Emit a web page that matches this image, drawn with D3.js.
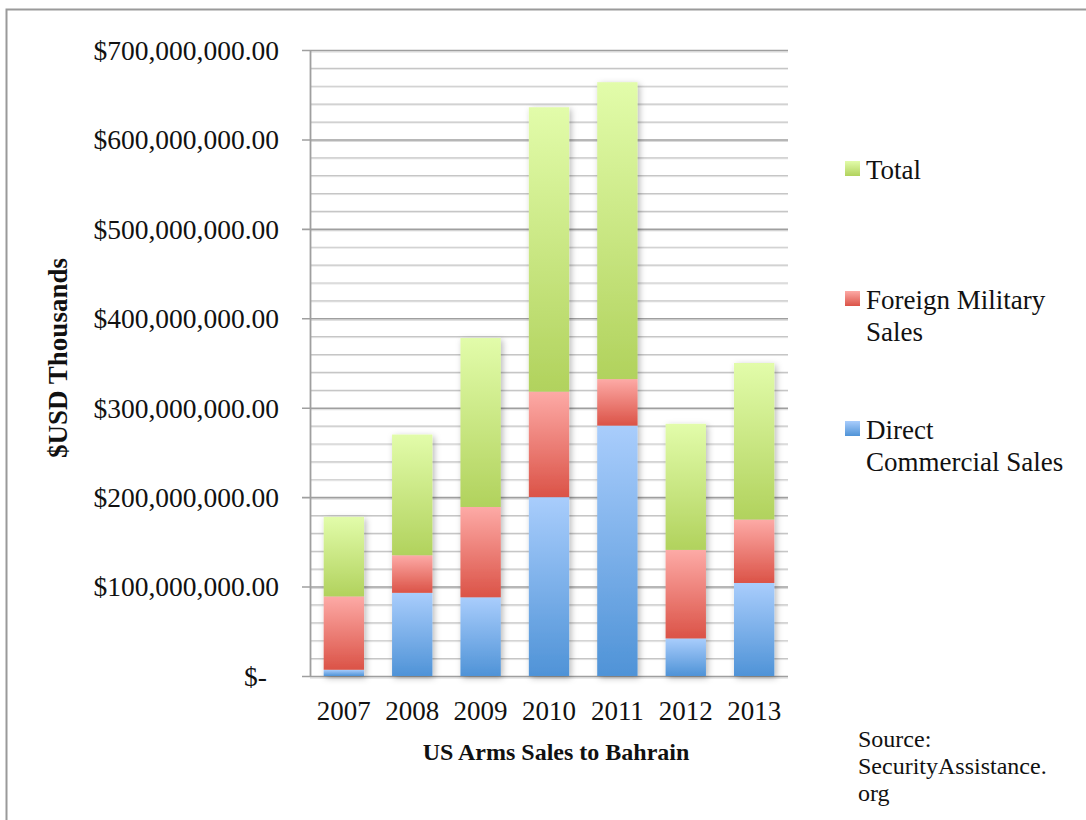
<!DOCTYPE html>
<html>
<head>
<meta charset="utf-8">
<script src="https://cdn.jsdelivr.net/npm/d3@7"></script>
<style>
  html, body { margin: 0; padding: 0; background: #fff; }
  svg { display: block; }
  text { font-family: "Liberation Serif", "Times New Roman", serif; fill: #111; }
</style>
</head>
<body>
<svg id="chart" width="1086" height="820"></svg>
<script>
// US arms sales to Bahrain, by year (US dollars)
const years = ["2007", "2008", "2009", "2010", "2011", "2012", "2013"];
const directCommercial = [7e6, 93e6, 88e6, 200e6, 280e6, 42e6, 104e6];
const foreignMilitary  = [82e6, 42e6, 101e6, 118e6, 52e6, 99e6, 71e6];
const totals           = [89e6, 135e6, 189e6, 318e6, 332e6, 141e6, 175e6];
const yTicks = [0, 100e6, 200e6, 300e6, 400e6, 500e6, 600e6, 700e6];
const seriesNames = ["Direct Commercial Sales", "Foreign Military Sales", "Total"];

const rows = years.map((yr, i) => ({
  year: yr,
  dcs: directCommercial[i],
  fms: foreignMilitary[i],
  total: totals[i]
}));
const keys = ["dcs", "fms", "total"];

const svg = d3.select("#chart");
const plotLeft = 310, plotRight = 788, plotTop = 50, plotBottom = 676;

const x = d3.scaleBand().domain(years).range([plotLeft, plotRight])
  .paddingInner(0.41).paddingOuter(0.2);
const y = d3.scaleLinear().domain([0, 700e6]).range([plotBottom, plotTop]);

// outer frame
svg.append("rect")
  .attr("x", 6.5).attr("y", 9.5).attr("width", 1200).attr("height", 1000)
  .attr("fill", "#fff").attr("stroke", "#9a9a9a").attr("stroke-width", 2);

const defs = svg.append("defs");
const shadow = defs.append("filter").attr("id", "barShadow")
  .attr("x", "-30%").attr("y", "-10%").attr("width", "160%").attr("height", "130%");
shadow.append("feDropShadow")
  .attr("dx", 2).attr("dy", 2).attr("stdDeviation", 3)
  .attr("flood-color", "#000").attr("flood-opacity", 0.28);

const gradStops = {
  dcs:   ["#a9cdfc", "#4f93d7"],
  fms:   ["#fdaaa6", "#db5347"],
  total: ["#e2fcaa", "#b1d25d"]
};
keys.forEach(k => {
  const g = defs.append("linearGradient").attr("id", "grad-" + k)
    .attr("x1", 0).attr("y1", 0).attr("x2", 0).attr("y2", 1);
  g.append("stop").attr("offset", "0%").attr("stop-color", gradStops[k][0]);
  g.append("stop").attr("offset", "100%").attr("stop-color", gradStops[k][1]);
});

// gridlines: minor every 20M, major every 100M
const minor = d3.range(20e6, 700e6 + 1, 20e6).filter(v => v % 100e6 !== 0);
const grid = svg.append("g");
grid.selectAll(".minor-sh").data(minor).join("line")
  .attr("x1", plotLeft).attr("x2", plotRight)
  .attr("y1", d => y(d) + 1.5).attr("y2", d => y(d) + 1.5)
  .attr("stroke", "#e6e6e6").attr("stroke-width", 1);
grid.selectAll(".minor").data(minor).join("line")
  .attr("x1", plotLeft).attr("x2", plotRight)
  .attr("y1", d => y(d) + 0.5).attr("y2", d => y(d) + 0.5)
  .attr("stroke", "#c6c6c6").attr("stroke-width", 1.2);
grid.selectAll(".major-sh").data(yTicks).join("line")
  .attr("x1", plotLeft).attr("x2", plotRight)
  .attr("y1", d => y(d) + 2).attr("y2", d => y(d) + 2)
  .attr("stroke", "#d8d8d8").attr("stroke-width", 1);
grid.selectAll(".major").data(yTicks).join("line")
  .attr("x1", plotLeft - 8).attr("x2", plotRight)
  .attr("y1", d => y(d) + 0.5).attr("y2", d => y(d) + 0.5)
  .attr("stroke", "#9f9f9f").attr("stroke-width", 1.6);

// stacked bars
const stacked = d3.stack().keys(keys)(rows);
const barG = svg.append("g").attr("filter", "url(#barShadow)");
stacked.forEach(layer => {
  barG.append("g").selectAll("rect").data(layer).join("rect")
    .attr("x", d => x(d.data.year))
    .attr("width", x.bandwidth())
    .attr("y", d => y(d[1]))
    .attr("height", d => y(d[0]) - y(d[1]))
    .attr("fill", "url(#grad-" + layer.key + ")");
});

// y axis line
svg.append("line")
  .attr("x1", plotLeft + 0.5).attr("x2", plotLeft + 0.5)
  .attr("y1", plotTop).attr("y2", plotBottom + 1)
  .attr("stroke", "#9f9f9f").attr("stroke-width", 1.8);

// y axis labels
const fmt = d3.format("$,.2f");
svg.append("g").selectAll("text").data(yTicks).join("text")
  .attr("x", d => d === 0 ? 267 : 279)
  .attr("y", d => y(d))
  .attr("dy", "0.36em")
  .attr("text-anchor", "end")
  .style("font-size", "27.5px")
  .text(d => d === 0 ? "$-" : fmt(d));

// x axis labels
svg.append("g").selectAll("text").data(years).join("text")
  .attr("x", d => x(d) + x.bandwidth() / 2)
  .attr("y", 720)
  .attr("text-anchor", "middle")
  .style("font-size", "27px")
  .text(d => d);

// axis titles
svg.append("text")
  .attr("x", 556).attr("y", 760)
  .attr("text-anchor", "middle")
  .style("font-size", "24px").style("font-weight", "bold")
  .text("US Arms Sales to Bahrain");

svg.append("text")
  .attr("transform", "translate(67,358) rotate(-90)")
  .attr("text-anchor", "middle")
  .style("font-size", "27px").style("font-weight", "bold")
  .text("$USD Thousands");

// legend
const legendItems = [
  { key: "total", lines: ["Total"], y: 161 },
  { key: "fms", lines: ["Foreign Military", "Sales"], y: 291 },
  { key: "dcs", lines: ["Direct", "Commercial Sales"], y: 421 }
];
const legend = svg.append("g");
legendItems.forEach(item => {
  legend.append("rect")
    .attr("x", 845).attr("y", item.y).attr("width", 15).attr("height", 15)
    .attr("fill", "url(#grad-" + item.key + ")");
  const t = legend.append("text")
    .attr("x", 866).attr("y", item.y + 18)
    .style("font-size", "27px");
  item.lines.forEach((ln, i) => {
    t.append("tspan").attr("x", 866).attr("dy", i === 0 ? 0 : 32).text(ln);
  });
});

// source note
const src = svg.append("text").attr("x", 858).attr("y", 747).style("font-size", "24px");
["Source:", "SecurityAssistance.", "org"].forEach((ln, i) => {
  src.append("tspan").attr("x", 858).attr("dy", i === 0 ? 0 : 27).text(ln);
});
</script>
</body>
</html>
